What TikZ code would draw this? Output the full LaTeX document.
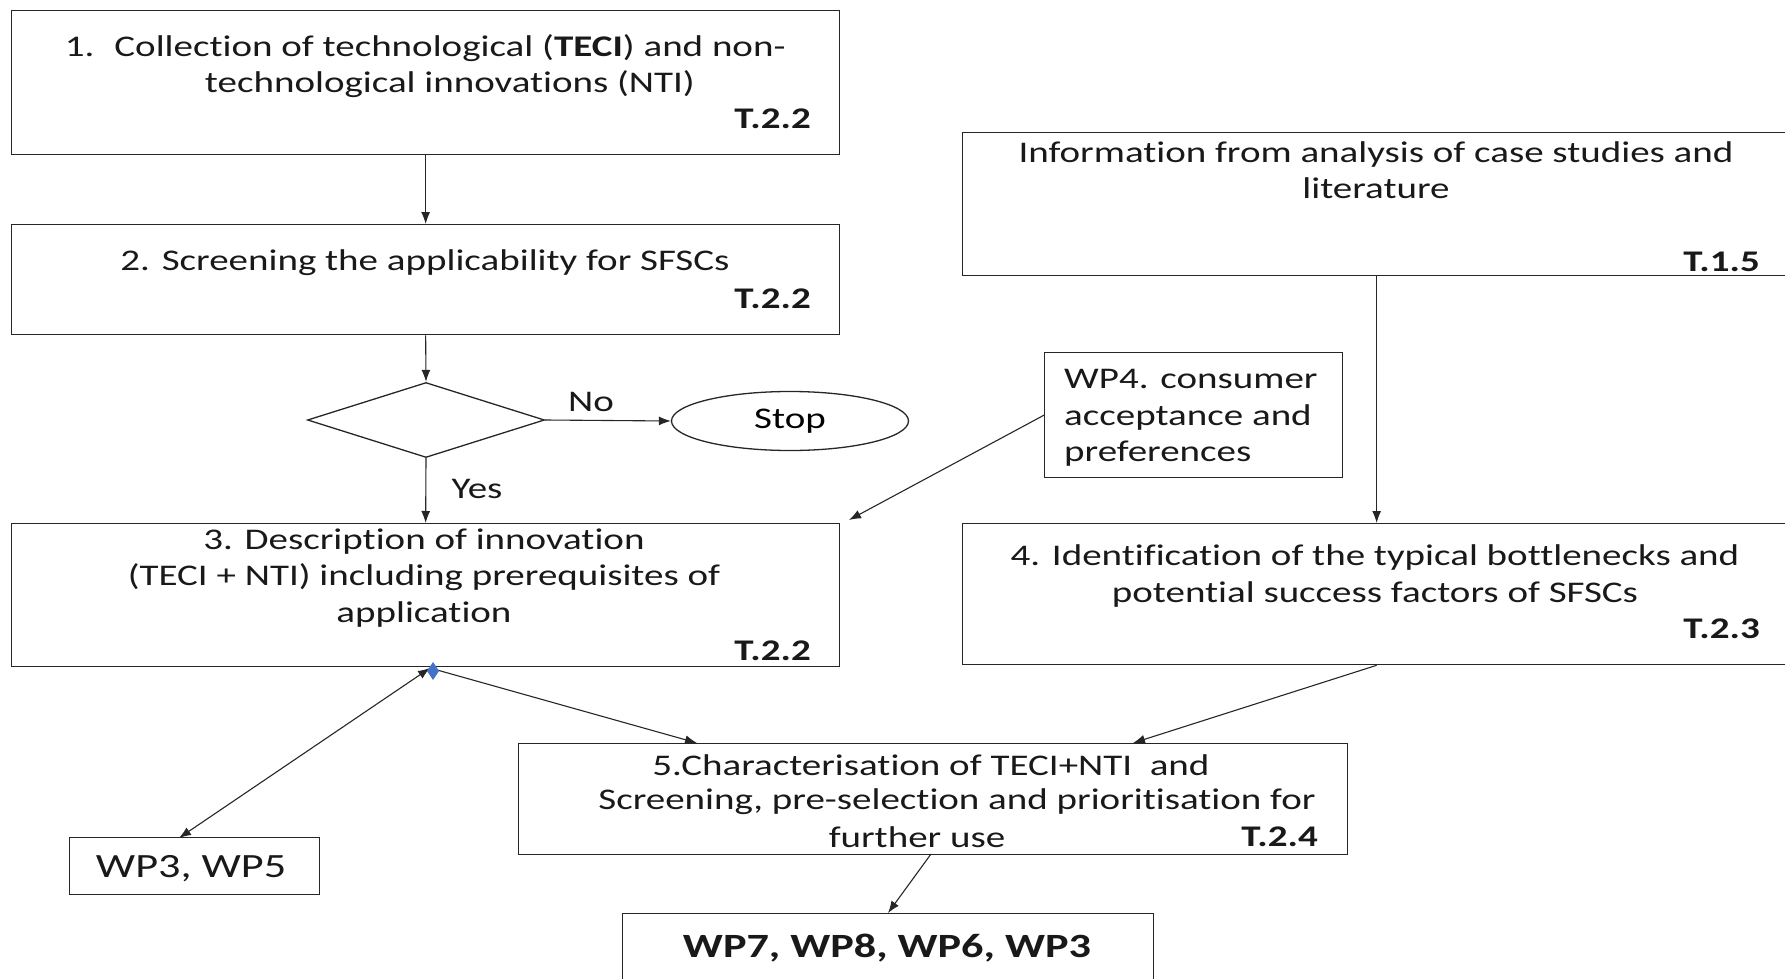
\documentclass[tikz,border=0pt]{standalone}
\usepackage{fontspec}
\setmainfont{Carlito}[FakeStretch=1.3, Ligatures=NoCommon]
\usetikzlibrary{shapes.geometric,arrows.meta,calc}
\begin{document}
\begin{tikzpicture}[x=1pt,y=-1pt,
  box/.style={draw=black!85, line width=1.3pt, rectangle, inner sep=0pt, anchor=north west},
  txt/.style={inner sep=0pt, font=\fontsize{30}{36.5}\selectfont, text=black!90},
  tag/.style={inner sep=0pt, anchor=east, font=\fontsize{30}{36.5}\selectfont\bfseries, text=black!90},
  arr/.style={-{Latex[length=12pt,width=9pt]}, line width=1.1pt, draw=black!85},
  darr/.style={{Latex[length=12pt,width=9pt]}-{Latex[length=12pt,width=9pt]}, line width=1.1pt, draw=black!85},
]
\useasboundingbox (0,0) rectangle (1785,979);

% boxes
\node[box, minimum width=828pt, minimum height=144pt] (b1) at (11,10) {};
\node[box, minimum width=828pt, minimum height=110pt] (b2) at (11,224) {};
\node[draw=black!85, line width=1.3pt, diamond, inner sep=0pt, minimum width=237pt, minimum height=75pt] (dec) at (426,420) {};
\node[draw=black!85, line width=1.3pt, ellipse, inner sep=0pt, minimum width=237pt, minimum height=59pt, font=\fontsize{30}{36.5}\selectfont] (stop) at (790,421) {Stop};
\node[box, minimum width=828pt, minimum height=143pt] (b3) at (11,523) {};
\node[box, minimum width=828pt, minimum height=143pt] (info) at (962,132) {};
\node[box, minimum width=298pt, minimum height=125pt] (wp4) at (1044,352) {};
\node[box, minimum width=828pt, minimum height=141pt] (b4) at (962,523) {};
\node[box, minimum width=829pt, minimum height=111pt] (b5) at (518,743) {};
\node[box, minimum width=250pt, minimum height=57pt] (wp35) at (69,837) {};
\node[box, minimum width=531pt, minimum height=80pt] (wpf) at (622,913) {};

% texts
\node[txt, align=center] (t1) at (450,66) {\llap{1.\hspace{20pt}}Collection of technological (\textbf{TECI}) and non-\\technological innovations (NTI)};
\node[tag] (g1) at (811,119) {T.2.2};
\node[txt] (t2) at (425,263) {2. Screening the applicability for SFSCs};
\node[tag] (g2) at (811,299) {T.2.2};
\node[txt, align=center] (t3) at (424,578) {3. Description of innovation\\(TECI + NTI) including prerequisites of\\application};
\node[tag] (g3) at (811,651) {T.2.2};
\node[txt, align=center] (ti) at (1376,170) {Information from analysis of case studies and\\literature};
\node[tag] (gi) at (1760,262) {T.1.5};
\node[txt, align=left, anchor=west] (t4p) at (1064,418) {WP4. consumer\\acceptance and\\preferences};
\node[txt, align=center] (t4) at (1375,576) {4. Identification of the typical bottlenecks and\\potential success factors of SFSCs};
\node[tag] (g4) at (1760,629) {T.2.3};
\node[txt] (t5a) at (931,765) {5.Characterisation of TECI+NTI\ \ and};
\node[txt] (t5b) at (957,802) {Screening, pre-selection and prioritisation for};
\node[txt] (t5c) at (917,837) {further use};
\node[tag] (g5) at (1318,837) {T.2.4};
\node[inner sep=0pt, font=\fontsize{34}{40}\selectfont, text=black!90] (t35) at (191,869) {WP3, WP5};
\node[inner sep=0pt, font=\fontsize{34}{40}\selectfont\bfseries, text=black!90] (tf) at (887,948) {WP7, WP8, WP6, WP3};
\node[txt] (lno) at (591,402) {No};
\node[txt] (lyes) at (477,489) {Yes};

% helper coordinates
\coordinate (c3tr) at (849,520);
\coordinate (c3b) at (430,668);
\coordinate (c5a) at (697,743);
\coordinate (c5b) at (1133,743);
\coordinate (c5o) at (931,854);
\coordinate (cfi) at (888,913);
\coordinate (c35) at (179,838);

% connectors
\draw[arr] (b1.south) -- (b2.north);
\draw[arr] (b2.south) -- (dec.north);
\draw[arr] (dec.east) -- (stop.west);
\draw[arr] (dec.south) -- (b3.north);
\draw[arr] (wp4.west) -- (c3tr);
\draw[arr] (info.south) -- (b4.north);
\draw[arr] (b4.south) -- (c5b);
\draw[arr] (c3b) -- (c5a);
\draw[darr] (c3b) -- (c35);
\draw[arr] (c5o) -- (cfi);
\fill[fill={rgb,255:red,68;green,114;blue,196}] (433,662) -- (439,671) -- (433,680) -- (427,671) -- cycle;
\end{tikzpicture}
\end{document}
